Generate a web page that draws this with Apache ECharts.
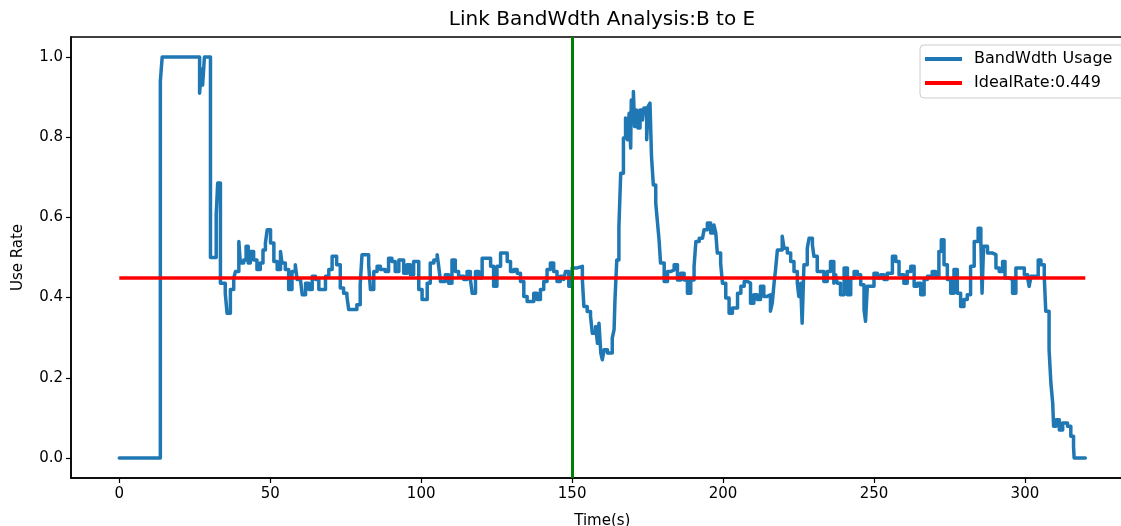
<!DOCTYPE html>
<html>
<head>
<meta charset="utf-8">
<script src="https://cdn.jsdelivr.net/npm/echarts@6/dist/echarts.min.js"></script>
<style>
html,body{margin:0;padding:0;background:#fff;}
#chart{width:1121px;height:526px;}
</style>
</head>
<body>
<div id="chart"></div>
<script>
const titleText = 'Link BandWdth Analysis:B to E';
const xTicks = [0, 50, 100, 150, 200, 250, 300];
const yTicks = [0, 0.2, 0.4, 0.6, 0.8, 1.0];
const markerTime = 150;
const idealRate = 0.449;
const idealTimes = [0, 320];

const timeValues = [
0,13.6,14.2,26.6,27.2,27.6,28.2,30.2,32.1,32.6,33.5,35.1,35.7,36.8,37.9,38.5,39.6,40.1,41.2,42.0,
42.7,43.4,44.5,45.6,46.7,47.6,48.4,49.0,50.1,51.2,52.3,53.4,53.9,55.0,56.1,57.2,58.3,58.9,60.0,60.6,
61.7,62.8,63.9,65.0,66.1,68.3,69.4,70.5,72.0,73.2,74.3,75.4,76.0,78.7,79.8,80.4,82.6,83.2,84.3,85.4,
86.5,88.1,89.2,90.3,91.4,92.6,94.2,95.3,96.4,97.5,99.2,100.3,102.0,103.0,104.2,105.3,105.8,106.4,108.0,109.1,
110.2,111.3,112.4,114.1,115.2,116.3,116.9,118.0,119.1,120.2,123.0,124.0,125.1,126.3,128.5,129.6,130.7,131.8,132.9,134.0,
135.1,137.3,138.4,139.5,140.6,141.7,142.8,143.9,145.0,146.1,147.2,147.8,148.9,150.0,151.7,153.4,153.9,155.0,156.1,156.7,
157.8,158.4,158.9,159.5,160.0,160.6,161.7,163.3,163.9,164.2,164.8,165.5,166.1,167.0,167.7,168.3,168.9,169.4,169.6,170.3,
170.7,171.4,171.8,172.5,173.3,173.8,174.7,175.2,175.8,176.3,176.9,177.7,178.2,178.8,179.3,180.5,181.6,182.7,183.8,184.9,
186.0,187.1,188.2,189.3,190.4,191.0,192.1,193.2,193.7,194.8,195.9,197.0,197.6,198.1,199.2,199.8,200.9,202.0,203.1,204.8,
205.9,207.0,208.1,209.1,210.2,211.3,212.4,213.5,214.6,215.7,216.3,216.9,217.4,218.0,219.6,220.2,221.3,222.4,223.5,224.6,
225.1,225.7,226.2,226.8,227.9,228.5,229.6,230.1,231.2,233.4,234.5,235.6,236.7,237.3,237.8,238.9,240.1,241.2,242.3,243.4,
244.5,245.6,246.7,247.2,247.8,250.0,251.1,252.2,253.3,254.4,256.1,257.2,258.3,259.9,261.0,262.2,263.3,264.4,265.5,266.6,
267.7,269.3,270.4,271.5,272.3,273.2,274.3,275.4,276.5,277.6,278.7,279.8,280.9,282.0,283.2,284.5,285.4,285.8,286.3,287.6,
289.3,290.4,291.5,292.6,293.4,294.8,295.9,297.0,299.8,300.9,301.4,302.0,304.4,305.3,306.4,306.9,308.0,308.6,309.2,309.5,
310.3,311.4,312.5,314.1,315.2,316.1,316.3,320.0
];

const usageValues = [
0,0.94,1.0,0.91,0.97,0.93,1.0,0.5,0.607,0.686,0.436,0.411,0.361,0.42,0.449,0.465,0.54,0.486,0.494,0.528,
0.486,0.515,0.494,0.47,0.486,0.519,0.536,0.569,0.536,0.49,0.47,0.515,0.486,0.47,0.42,0.465,0.482,0.445,0.449,0.407,
0.436,0.42,0.453,0.445,0.42,0.453,0.47,0.503,0.482,0.424,0.411,0.403,0.37,0.382,0.432,0.507,0.482,0.42,0.465,0.478,
0.47,0.465,0.498,0.49,0.465,0.494,0.461,0.482,0.457,0.49,0.42,0.395,0.436,0.486,0.494,0.507,0.478,0.44,0.457,0.436,
0.494,0.465,0.453,0.445,0.465,0.445,0.411,0.465,0.449,0.498,0.478,0.428,0.478,0.511,0.49,0.465,0.47,0.461,0.44,0.403,
0.39,0.411,0.395,0.42,0.44,0.47,0.486,0.465,0.44,0.453,0.445,0.465,0.428,0.474,0.478,0.444,0.378,0.365,0.353,0.311,
0.328,0.286,0.336,0.262,0.245,0.27,0.262,0.299,0.32,0.395,0.494,0.577,0.71,0.798,0.848,0.794,0.86,0.773,0.893,0.914,
0.827,0.868,0.823,0.868,0.843,0.873,0.794,0.877,0.885,0.752,0.681,0.636,0.594,0.544,0.486,0.44,0.465,0.469,0.482,0.444,
0.461,0.444,0.411,0.444,0.478,0.54,0.548,0.544,0.569,0.586,0.561,0.581,0.561,0.511,0.486,0.436,0.399,0.361,0.374,0.411,
0.428,0.44,0.436,0.386,0.407,0.395,0.428,0.403,0.407,0.366,0.386,0.436,0.47,0.519,0.553,0.523,0.511,0.49,0.465,0.436,
0.403,0.436,0.336,0.482,0.523,0.548,0.532,0.503,0.465,0.44,0.465,0.49,0.436,0.457,0.436,0.407,0.474,0.407,0.449,0.465,
0.457,0.432,0.37,0.341,0.428,0.461,0.449,0.457,0.445,0.461,0.503,0.49,0.457,0.436,0.465,0.478,0.428,0.436,0.407,0.445,
0.453,0.465,0.453,0.515,0.544,0.482,0.445,0.411,0.47,0.411,0.378,0.395,0.407,0.478,0.54,0.573,0.54,0.411,0.528,0.511,
0.507,0.474,0.465,0.49,0.449,0.445,0.411,0.474,0.457,0.449,0.428,0.453,0.494,0.482,0.453,0.366,0.27,0.187,0.137,0.079,
0.095,0.07,0.087,0.079,0.054,0.029,0.0,0.0
];

const usageData = timeValues.map((t, i) => [t, usageValues[i]]);
const idealData = idealTimes.map(t => [t, idealRate]);

const FONT = 'DejaVu Sans';
const chart = echarts.init(document.getElementById('chart'), null, {renderer: 'canvas'});
chart.setOption({
  animation: false,
  backgroundColor: '#ffffff',
  textStyle: {fontFamily: FONT, color: '#000'},
  title: {
    text: titleText,
    left: 602,
    textAlign: 'center',
    top: 10,
    padding: 0,
    textStyle: {fontFamily: FONT, fontSize: 20, fontWeight: 'normal', color: '#000'}
  },
  grid: {
    left: 71, top: 37, width: 1062.6, height: 441,
    containLabel: false,
    outerBoundsMode: 'none',
    show: true, borderColor: '#000', borderWidth: 1.5, backgroundColor: '#fff'
  },
  legend: {
    orient: 'vertical',
    left: 920, top: 45,
    padding: [5, 14, 6, 5],
    itemGap: 6,
    itemWidth: 37, itemHeight: 4,
    borderColor: '#cccccc', borderWidth: 1, borderRadius: 4,
    backgroundColor: 'rgba(255,255,255,0.8)',
    textStyle: {fontFamily: FONT, fontSize: 16, color: '#000', lineHeight: 18, padding: [0, 0, 0, 7]},
    data: [
      {name: 'BandWdth Usage', icon: 'rect'},
      {name: 'IdealRate:0.449', icon: 'rect'}
    ]
  },
  xAxis: {
    type: 'value',
    min: -16, max: 336,
    name: 'Time(s)',
    nameLocation: 'middle',
    nameGap: 36,
    nameTextStyle: {fontFamily: FONT, fontSize: 15, color: '#000'},
    axisLine: {show: true, onZero: false, lineStyle: {color: '#000', width: 1.5}},
    axisTick: {show: true, length: 5, lineStyle: {color: '#000', width: 1.2}, customValues: xTicks},
    axisLabel: {fontFamily: FONT, fontSize: 15, color: '#000', margin: 9, customValues: xTicks},
    splitLine: {show: false}
  },
  yAxis: {
    type: 'value',
    min: -0.05, max: 1.05,
    name: 'Use Rate',
    nameLocation: 'middle',
    nameGap: 45,
    nameTextStyle: {fontFamily: FONT, fontSize: 15, color: '#000'},
    axisLine: {show: true, onZero: false, lineStyle: {color: '#000', width: 1.5}},
    axisTick: {show: true, length: 5, lineStyle: {color: '#000', width: 1.2}, customValues: yTicks},
    axisLabel: {fontFamily: FONT, fontSize: 15, color: '#000', margin: 8, customValues: yTicks,
      formatter: v => v.toFixed(1)},
    splitLine: {show: false}
  },
  series: [
    {
      name: 'BandWdth Usage',
      type: 'line',
      step: 'end',
      data: usageData,
      showSymbol: false,
      symbol: 'none',
      color: '#1f77b4',
      lineStyle: {color: '#1f77b4', width: 3.5, join: 'round', cap: 'round'}
    },
    {
      name: 'IdealRate:0.449',
      type: 'line',
      data: idealData,
      showSymbol: false,
      symbol: 'none',
      color: '#ff0000',
      lineStyle: {color: '#ff0000', width: 3.5},
      markLine: {
        silent: true,
        symbol: ['none', 'none'],
        label: {show: false},
        lineStyle: {color: '#008000', width: 3, type: 'solid'},
        data: [{xAxis: markerTime}]
      }
    }
  ]
});
</script>
</body>
</html>
